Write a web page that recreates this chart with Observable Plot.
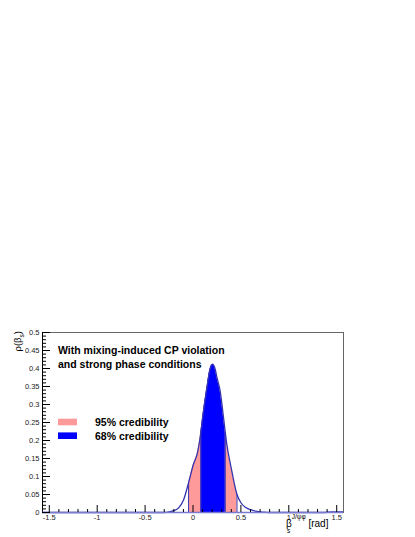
<!DOCTYPE html>
<html><head><meta charset="utf-8">
<script src="https://cdn.jsdelivr.net/npm/d3@7"></script>
<script src="https://cdn.jsdelivr.net/npm/@observablehq/plot@0.6"></script>
<style>
html,body{margin:0;padding:0;background:#fff;}
#chart{position:relative;width:415px;height:537px;}
</style></head><body><div id="chart"></div>
<script>
// beta_s values (rad) and posterior density
const betaX = [-1.5708, -0.30, -0.25, -0.20, -0.15, -0.10, -0.046, 0.00, 0.05, 0.083, 0.10, 0.15, 0.175, 0.205, 0.235, 0.25, 0.285, 0.30, 0.337, 0.35, 0.40, 0.459, 0.50, 0.55, 0.60, 0.65, 0.70, 0.75, 0.80, 1.35, 1.45, 1.5708];
const rho   = [0, 0.000, 0.0015, 0.005, 0.013, 0.034, 0.083, 0.130, 0.170, 0.225, 0.262, 0.355, 0.395, 0.412, 0.395, 0.375, 0.335, 0.305, 0.222, 0.195, 0.122, 0.050, 0.027, 0.014, 0.008, 0.004, 0.002, 0.001, 0.000, 0.000, 0.0015, 0.0015];
// credibility intervals
const int95 = [-0.046, 0.459];
const int68 = [0.083, 0.337];
const xTicks = [-1.5, -1, -0.5, 0, 0.5, 1, 1.5];
const yTicks = [0, 0.05, 0.1, 0.15, 0.2, 0.25, 0.3, 0.35, 0.4, 0.45, 0.5];
const legendLabels = ["95% credibility", "68% credibility"];
const legendColors = ["#ff9a9a", "#0000ff"];
const titleLines = ["With mixing-induced CP violation", "and strong phase conditions"];

const xDomain = [-Math.PI / 2, Math.PI / 2];
const data = betaX.map((x, i) => ({x, y: rho[i]}));
const in95 = data.filter(d => d.x >= int95[0] && d.x <= int95[1]);
const in68 = data.filter(d => d.x >= int68[0] && d.x <= int68[1]);
const edges = data.filter(d => int95.includes(d.x) || int68.includes(d.x));
const xMinor = d3.range(-15, 16).map(i => i / 10).filter(v => !xTicks.some(t => Math.abs(t - v) < 1e-9));
const yMinor = d3.range(0, 51).map(i => i / 100).filter(v => !yTicks.some(t => Math.abs(t - v) < 1e-9));
const lineColor = "#3535b0";
const fmt = d => String(d);

const svg = Plot.plot({
  width: 415, height: 537,
  marginLeft: 42, marginRight: 72, marginTop: 332, marginBottom: 25,
  style: {fontFamily: "Liberation Sans, Arial, sans-serif", background: "#fff"},
  x: {domain: xDomain, label: null},
  y: {domain: [0, 0.5], label: null},
  marks: [
    Plot.areaY(in95, {x: "x", y: "y", fill: legendColors[0], curve: "monotone-x"}),
    Plot.areaY(in68, {x: "x", y: "y", fill: legendColors[1], curve: "monotone-x"}),
    Plot.ruleX(edges, {x: "x", y1: 0, y2: "y", stroke: lineColor, strokeWidth: 1}),
    Plot.lineY(data, {x: "x", y: "y", stroke: lineColor, strokeWidth: 1.3, curve: "monotone-x"}),
    Plot.frame({stroke: "#666", strokeWidth: 1}),
    Plot.ruleX([xDomain[0]], {stroke: "#000", strokeWidth: 1}),
    Plot.ruleY([0], {stroke: "#7a7ad0", strokeWidth: 1.5}),
    // x ticks (inward)
    Plot.axisX({ticks: xTicks, tickSize: -7, text: null, stroke: "#000", label: null}),
    Plot.axisX({ticks: xMinor, tickSize: -3, text: null, stroke: "#000", label: null}),
    Plot.axisX({ticks: xTicks, tickSize: 0, tickPadding: 2, tickFormat: fmt, fontSize: 7.5, fill: "#222", label: null}),
    // y ticks (inward)
    Plot.axisY({ticks: yTicks, tickSize: -8, text: null, stroke: "#000", label: null}),
    Plot.axisY({ticks: yMinor, tickSize: -4, text: null, stroke: "#000", label: null}),
    Plot.axisY({ticks: yTicks, tickSize: 0, tickPadding: 3, tickFormat: fmt, fontSize: 7.5, fill: "#222", label: null})
  ]
});
document.getElementById("chart").appendChild(svg);

const s = d3.select(svg);
const font = "Liberation Sans, Arial, sans-serif";
// title
titleLines.forEach((t, i) => {
  s.append("text").attr("x", 58).attr("y", 354 + i * 14).attr("text-anchor", "start")
    .attr("font-family", font).attr("font-size", 10.5).attr("font-weight", "bold").attr("fill", "#000").text(t);
});
// legend
legendLabels.forEach((t, i) => {
  const yc = 422 + i * 13.7;
  s.append("rect").attr("x", 58).attr("y", yc - 3.3).attr("width", 19).attr("height", 6.6).attr("fill", legendColors[i]);
  s.append("text").attr("x", 95).attr("y", yc + 3.8).attr("text-anchor", "start")
    .attr("font-family", font).attr("font-size", 10.5).attr("font-weight", "bold").attr("fill", "#000").text(t);
});
// y-axis title  rho(beta_s)
const yl = s.append("text").attr("transform", "translate(21,331) rotate(-90)")
  .attr("text-anchor", "end").attr("font-family", font).attr("font-size", 9.5).attr("fill", "#000");
yl.append("tspan").text("ρ(β");
yl.append("tspan").attr("font-size", 6.5).attr("dy", 2.5).text("s");
yl.append("tspan").attr("dy", -2.5).text(")");
// x-axis title  beta_s^{J/psi phi} [rad]
const xl = s.append("text").attr("x", 286).attr("y", 527).attr("text-anchor", "start")
  .attr("font-family", font).attr("font-size", 10).attr("fill", "#000");
xl.append("tspan").text("β");
xl.append("tspan").attr("font-size", 6.5).attr("dy", -8).text("J/ψφ");
xl.append("tspan").attr("font-size", 10).attr("dy", 8).text(" [rad]");
s.append("text").attr("x", 287).attr("y", 533).attr("text-anchor", "start").attr("font-family", font).attr("font-size", 6.5).attr("fill", "#000").text("s");
</script></body></html>
